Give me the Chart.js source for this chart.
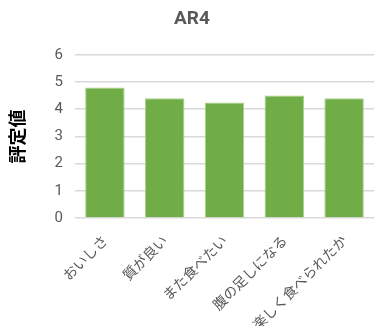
<!DOCTYPE html>
<html>
<head>
<meta charset="utf-8">
<script src="https://cdn.jsdelivr.net/npm/chart.js@4/dist/chart.umd.min.js"></script>
<style>
  html, body { margin: 0; padding: 0; background: #fff; }
  #wrap { width: 374px; height: 326px; }
</style>
</head>
<body>
<div id="wrap"><canvas id="chart"></canvas></div>
<script>
const labels = ['おいしさ', '質が良い', 'また食べたい', '腹の足しになる', '楽しく食べられたか'];
const scores = [4.8, 4.4, 4.25, 4.5, 4.4];
const yTicks = [0, 1, 2, 3, 4, 5, 6];

const grey = '#595959';
const jp = '"Noto Sans CJK JP", "Noto Sans", sans-serif';

const ctx = document.getElementById('chart');
new Chart(ctx, {
  type: 'bar',
  data: {
    labels: labels,
    datasets: [{
      data: scores,
      backgroundColor: '#70ad47',
      borderColor: '#a9d18e',
      borderWidth: 1,
      categoryPercentage: 1,
      barPercentage: 0.66
    }]
  },
  options: {
    responsive: true,
    maintainAspectRatio: false,
    animation: false,
    layout: { padding: { top: 8, right: -4, left: 6 } },
    plugins: {
      legend: { display: false },
      tooltip: { enabled: false },
      title: {
        display: true,
        text: 'AR4',
        color: grey,
        font: { family: 'Roboto, sans-serif', size: 19, weight: 'bold' },
        padding: { top: 0, bottom: 24 }
      }
    },
    scales: {
      x: {
        grid: { display: false },
        border: { display: false },
        ticks: {
          color: grey,
          font: { family: jp, size: 14 },
          minRotation: 45,
          maxRotation: 45,
          padding: 6
        },
        afterFit: (scale) => { scale.height = 108; }
      },
      y: {
        min: 0,
        max: 6,
        afterBuildTicks: (scale) => { scale.ticks = yTicks.map(v => ({ value: v })); },
        grid: { color: '#d9d9d9', lineWidth: 1.5, drawTicks: false },
        border: { display: false },
        ticks: {
          color: grey,
          font: { family: 'Roboto, sans-serif', size: 15 },
          padding: 12
        },
        title: {
          display: true,
          text: '評定値',
          color: '#000',
          font: { family: jp, size: 18, weight: 'bold' },
          padding: { top: 0, bottom: 20 }
        },
        afterFit: (scale) => { scale.width = 69; }
      }
    }
  }
});
</script>
</body>
</html>
